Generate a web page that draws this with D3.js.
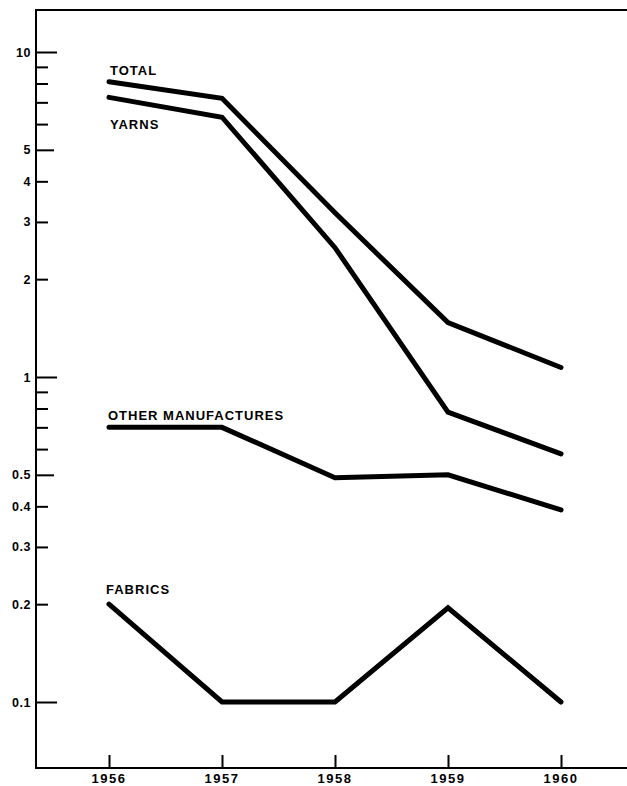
<!DOCTYPE html>
<html>
<head>
<meta charset="utf-8">
<script src="https://cdn.jsdelivr.net/npm/d3@7"></script>
<style>
  html, body { margin: 0; padding: 0; background: #fff; }
  svg { display: block; }
  text { font-family: "Liberation Sans", Arial, sans-serif; font-weight: bold; fill: #000; }
</style>
</head>
<body>
<svg id="chart" width="627" height="786"></svg>
<script>
// Years along the bottom axis
const years = [1956, 1957, 1958, 1959, 1960];

// Series values (log scale)
const total = [8.1, 7.2, 3.2, 1.47, 1.07];
const yarns = [7.25, 6.3, 2.5, 0.78, 0.58];
const otherManufactures = [0.7, 0.7, 0.49, 0.5, 0.39];
const fabrics = [0.2, 0.1, 0.1, 0.195, 0.1];

// Series names
const seriesNames = ["TOTAL", "YARNS", "OTHER MANUFACTURES", "FABRICS"];

// Y-axis ticks: labelled and unlabelled
const yTickLabels = [10, 5, 4, 3, 2, 1, 0.5, 0.4, 0.3, 0.2, 0.1];
const yMinorTicks = [9, 8, 7, 6, 0.9, 0.8, 0.7, 0.6];
const yLongTicks = [10, 1, 0.1];

const svg = d3.select("#chart");

const plot = { left: 36, right: 627, top: 10, bottom: 768 };

const x = d3.scaleLinear().domain([1956, 1960]).range([109, 561]);
const y = d3.scaleLog().domain([0.1, 10]).range([702, 52]);

// Frame: top line, left axis, bottom axis
svg.append("line")
  .attr("x1", plot.left).attr("x2", plot.right)
  .attr("y1", plot.top).attr("y2", plot.top)
  .attr("stroke", "#000").attr("stroke-width", 2);
svg.append("line")
  .attr("x1", plot.left).attr("x2", plot.left)
  .attr("y1", plot.top - 1).attr("y2", plot.bottom + 1)
  .attr("stroke", "#000").attr("stroke-width", 2);
svg.append("line")
  .attr("x1", plot.left - 1).attr("x2", plot.right)
  .attr("y1", plot.bottom).attr("y2", plot.bottom)
  .attr("stroke", "#000").attr("stroke-width", 2);

// Y axis labelled ticks
const yAxisMajor = d3.axisRight(y)
  .tickValues(yTickLabels)
  .tickSize(0)
  .tickFormat(() => "");
const gy = svg.append("g").attr("transform", `translate(${plot.left},0)`).call(yAxisMajor);
gy.select(".domain").remove();
gy.selectAll(".tick line")
  .attr("x2", d => yLongTicks.includes(d) ? 21 : (d === 5 || d === 0.5) ? 18 : 12)
  .attr("stroke", "#000").attr("stroke-width", 2);

// Y axis unlabelled minor ticks
const yAxisMinor = d3.axisRight(y)
  .tickValues(yMinorTicks)
  .tickSize(12)
  .tickFormat(() => "");
const gyMinor = svg.append("g").attr("transform", `translate(${plot.left},0)`).call(yAxisMinor);
gyMinor.select(".domain").remove();
gyMinor.selectAll(".tick line").attr("stroke", "#000").attr("stroke-width", 2);

// Y tick labels
svg.append("g").selectAll("text")
  .data(yTickLabels)
  .join("text")
  .attr("x", 31)
  .attr("y", d => y(d))
  .attr("dy", "0.36em")
  .attr("text-anchor", "end")
  .attr("font-size", 12.5)
  .attr("letter-spacing", 0.5)
  .text(d => String(d));

// X axis ticks (pointing up into the plot) and labels
const xAxis = d3.axisTop(x)
  .tickValues(years)
  .tickSize(13)
  .tickFormat(() => "");
const gx = svg.append("g").attr("transform", `translate(0,${plot.bottom})`).call(xAxis);
gx.select(".domain").remove();
gx.selectAll(".tick line").attr("stroke", "#000").attr("stroke-width", 2);

svg.append("g").selectAll("text")
  .data(years)
  .join("text")
  .attr("x", d => x(d))
  .attr("y", 783)
  .attr("text-anchor", "middle")
  .attr("font-size", 13)
  .attr("letter-spacing", 1.5)
  .text(d => d);

// Series lines
const series = [total, yarns, otherManufactures, fabrics];
const line = d3.line()
  .x((d, i) => x(years[i]))
  .y(d => y(d));

svg.append("g").selectAll("path")
  .data(series)
  .join("path")
  .attr("d", d => line(d))
  .attr("fill", "none")
  .attr("stroke", "#000")
  .attr("stroke-width", 5)
  .attr("stroke-linecap", "round")
  .attr("stroke-linejoin", "miter");

// Series labels
const labelPos = [
  { x: 110, y: 75 },
  { x: 110, y: 129 },
  { x: 108, y: 420 },
  { x: 106, y: 594 }
];
svg.append("g").selectAll("text")
  .data(seriesNames)
  .join("text")
  .attr("x", (d, i) => labelPos[i].x)
  .attr("y", (d, i) => labelPos[i].y)
  .attr("font-size", 13)
  .attr("letter-spacing", 1)
  .text(d => d);
</script>
</body>
</html>
